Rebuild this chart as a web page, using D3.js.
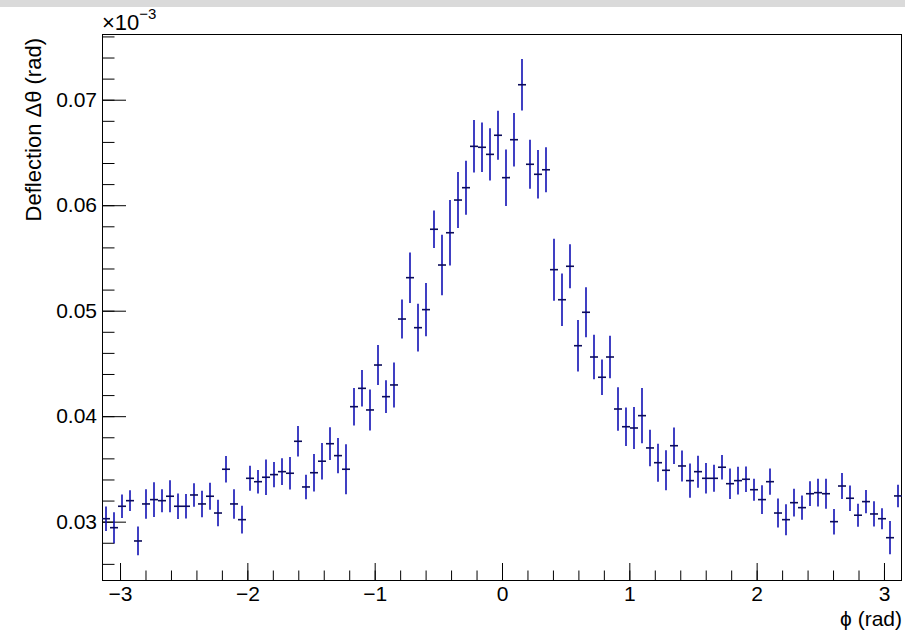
<!DOCTYPE html>
<html>
<head>
<meta charset="utf-8">
<script src="https://cdn.jsdelivr.net/npm/d3@7"></script>
<style>
  body { margin: 0; background: #fff; }
  svg { display: block; font-family: "Liberation Sans", Arial, sans-serif; }
</style>
</head>
<body>
<div id="chart"></div>
<script>
// deflection per phi bin, shown in units of 1e-3 rad (100 bins from -pi to pi)
var deflection = [
  0.03028, 0.02943, 0.03146, 0.03199, 0.02817, 0.03168, 0.03209, 0.03199, 0.03241, 0.03146,
  0.03146, 0.03253, 0.03168, 0.03241, 0.03082, 0.03497, 0.03168, 0.03019, 0.03411, 0.03379,
  0.03421, 0.03446, 0.03474, 0.03459, 0.03762, 0.03329, 0.03464, 0.03573, 0.03739, 0.03626,
  0.03497, 0.04090, 0.04264, 0.04059, 0.04485, 0.04185, 0.04296, 0.04921, 0.05313, 0.04839,
  0.05010, 0.05772, 0.05433, 0.05739, 0.06049, 0.06166, 0.06558, 0.06549, 0.06482, 0.06663,
  0.06261, 0.06621, 0.07142, 0.06388, 0.06293, 0.06336, 0.05389, 0.05104, 0.05421, 0.04668,
  0.04985, 0.04561, 0.04369, 0.04561, 0.04068, 0.03900, 0.03888, 0.04005, 0.03699, 0.03559,
  0.03487, 0.03720, 0.03528, 0.03389, 0.03474, 0.03411, 0.03411, 0.03516, 0.03360, 0.03389,
  0.03402, 0.03303, 0.03209, 0.03379, 0.03082, 0.03019, 0.03180, 0.03133, 0.03265, 0.03275,
  0.03265, 0.03000, 0.03338, 0.03222, 0.03061, 0.03190, 0.03073, 0.03028, 0.02848, 0.03244
]
var errors = [
  0.00116, 0.00147, 0.00111, 0.00098, 0.00136, 0.00140, 0.00164, 0.00109, 0.00152, 0.00121,
  0.00116, 0.00111, 0.00125, 0.00128, 0.00126, 0.00126, 0.00140, 0.00131, 0.00118, 0.00111,
  0.00169, 0.00120, 0.00126, 0.00154, 0.00145, 0.00116, 0.00178, 0.00173, 0.00155, 0.00168,
  0.00237, 0.00178, 0.00173, 0.00194, 0.00190, 0.00155, 0.00213, 0.00185, 0.00239, 0.00226,
  0.00253, 0.00178, 0.00287, 0.00311, 0.00265, 0.00256, 0.00249, 0.00234, 0.00248, 0.00232,
  0.00268, 0.00254, 0.00245, 0.00232, 0.00230, 0.00213, 0.00294, 0.00249, 0.00209, 0.00244,
  0.00237, 0.00211, 0.00168, 0.00201, 0.00206, 0.00182, 0.00199, 0.00261, 0.00173, 0.00180,
  0.00190, 0.00173, 0.00147, 0.00163, 0.00152, 0.00145, 0.00128, 0.00117, 0.00145, 0.00131,
  0.00121, 0.00104, 0.00137, 0.00125, 0.00137, 0.00147, 0.00131, 0.00116, 0.00117, 0.00131,
  0.00142, 0.00121, 0.00123, 0.00121, 0.00109, 0.00111, 0.00120, 0.00100, 0.00158, 0.00107
]
var xMajorTicks = [-3, -2, -1, 0, 1, 2, 3]
var yMajorTicks = [0.03, 0.04, 0.05, 0.06, 0.07]

var width = 905, height = 631
var margin = {top: 34, right: 3, bottom: 51, left: 102}

var svg = d3.select("#chart").append("svg")
    .attr("width", width)
    .attr("height", height)

// grey strip at the top of the window
svg.append("rect")
    .attr("x", 0).attr("y", 0)
    .attr("width", width).attr("height", 7)
    .attr("fill", "#dadada")

var x = d3.scaleLinear()
    .domain([-Math.PI, Math.PI])
    .range([margin.left, width - margin.right])

var y = d3.scaleLinear()
    .domain([0.02447, 0.07623])
    .range([height - margin.bottom, margin.top])

var nBins = deflection.length
var binW = 2 * Math.PI / nBins
var bins = deflection.map(function(v, i) {
    var lo = -Math.PI + i * binW
    return {lo: lo, hi: lo + binW, mid: lo + binW / 2, v: v, e: errors[i]}
})

// minor ticks every 0.2 / 0.002
var xMinor = d3.range(-3.2, 3.21, 0.2).filter(function(t) { return t > -Math.PI && t < Math.PI })
var yMinor = d3.range(0.024, 0.0765, 0.002).filter(function(t) { return t > 0.02447 && t < 0.07623 })

var xb = height - margin.bottom
var yl = margin.left

// X axis
svg.append("g")
    .attr("transform", "translate(0," + xb + ")")
    .call(d3.axisBottom(x).tickValues(xMinor).tickSize(-9.5).tickFormat(""))
    .call(function(g) { g.select(".domain").remove() })
svg.append("g")
    .attr("class", "xaxis")
    .attr("transform", "translate(0," + xb + ")")
    .call(d3.axisBottom(x).tickValues(xMajorTicks).tickSize(-17).tickPadding(6).tickFormat(d3.format("d")))
    .call(function(g) { g.select(".domain").remove() })

// Y axis
svg.append("g")
    .attr("transform", "translate(" + yl + ",0)")
    .call(d3.axisLeft(y).tickValues(yMinor).tickSize(-12.5).tickFormat(""))
    .call(function(g) { g.select(".domain").remove() })
svg.append("g")
    .attr("class", "yaxis")
    .attr("transform", "translate(" + yl + ",0)")
    .call(d3.axisLeft(y).tickValues(yMajorTicks).tickSize(-24).tickPadding(5).tickFormat(d3.format(".2f")))
    .call(function(g) { g.select(".domain").remove() })

svg.selectAll(".tick line").attr("stroke", "#000").attr("stroke-width", 1)
svg.selectAll(".tick text")
    .attr("fill", "#000")
    .style("font-size", "21px")
    .style("font-family", "Liberation Sans, Arial, sans-serif")

// frame
svg.append("rect")
    .attr("x", margin.left + 0.5)
    .attr("y", margin.top + 0.5)
    .attr("width", width - margin.right - margin.left - 1)
    .attr("height", height - margin.bottom - margin.top)
    .attr("fill", "none")
    .attr("stroke", "#000")
    .attr("stroke-width", 1)

// error bars
var pts = svg.append("g")
pts.selectAll(".vbar")
    .data(bins)
    .enter()
    .append("line")
    .attr("x1", function(d) { return x(d.mid) })
    .attr("x2", function(d) { return x(d.mid) })
    .attr("y1", function(d) { return y(d.v - d.e) })
    .attr("y2", function(d) { return y(d.v + d.e) })
    .attr("stroke", "#1010b4")
    .attr("stroke-width", 1.6)
pts.selectAll(".hbar")
    .data(bins)
    .enter()
    .append("line")
    .attr("x1", function(d) { return x(d.lo) })
    .attr("x2", function(d) { return x(d.hi) })
    .attr("y1", function(d) { return y(d.v) })
    .attr("y2", function(d) { return y(d.v) })
    .attr("stroke", "#0c0c5a")
    .attr("stroke-width", 1.6)

// axis titles
svg.append("text")
    .attr("transform", "translate(41," + (margin.top + 4) + ") rotate(-90)")
    .attr("text-anchor", "end")
    .style("font-size", "22px")
    .text("Deflection Δθ (rad)")

svg.append("text")
    .attr("x", width - margin.right)
    .attr("y", 626)
    .attr("text-anchor", "end")
    .style("font-size", "21px")
    .text("ϕ (rad)")

// exponent label
var expo = svg.append("text")
    .attr("x", margin.left)
    .attr("y", 30)
    .style("font-size", "22px")
expo.append("tspan").text("×10")
expo.append("tspan").attr("dy", -11).style("font-size", "15px").text("−3")
</script>
</body>
</html>
